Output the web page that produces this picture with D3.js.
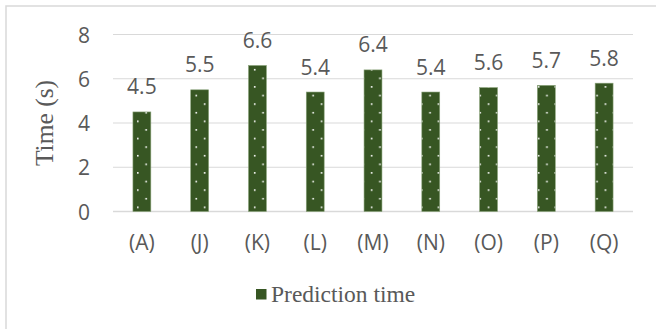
<!DOCTYPE html>
<html>
<head>
<meta charset="utf-8">
<script src="https://cdn.jsdelivr.net/npm/d3@7"></script>
<style>
  html, body { margin: 0; padding: 0; background: #fff; }
  svg { display: block; }
</style>
</head>
<body>
<svg id="chart" width="656" height="329"></svg>
<script>
// Prediction time per model variant
const categories = ["(A)", "(J)", "(K)", "(L)", "(M)", "(N)", "(O)", "(P)", "(Q)"];
const predictionTime = [4.5, 5.5, 6.6, 5.4, 6.4, 5.4, 5.6, 5.7, 5.8];
const yTicks = [0, 2, 4, 6, 8];
const seriesName = "Prediction time";
const yTitle = "Time (s)";

const W = 656, H = 329;
const svg = d3.select("#chart");
const textGrey = "#595959";
const barFill = "#375623";
const sansFont = "'Open Sans', 'Noto Sans', sans-serif";
const serifFont = "'Liberation Serif', 'Times New Roman', serif";
const sansSize = 21;

// Dotted fill used by the bars and the legend key
const defs = svg.append("defs");
const pat = defs.append("pattern")
  .attr("id", "dots")
  .attr("patternUnits", "userSpaceOnUse")
  .attr("x", 137).attr("y", 120.5)
  .attr("width", 16.7).attr("height", 17.2);
pat.append("rect").attr("width", 16.7).attr("height", 17.2).attr("fill", barFill);
pat.append("rect").attr("x", 0).attr("y", 0).attr("width", 1.6).attr("height", 1.6).attr("fill", "#ffffff");
pat.append("rect").attr("x", 8.35).attr("y", 8.6).attr("width", 1.6).attr("height", 1.6).attr("fill", "#ffffff");

// Chart-area frame (right and bottom edges fall outside the view)
svg.append("rect")
  .attr("x", 6).attr("y", 6).attr("width", W + 10).attr("height", H + 10)
  .attr("fill", "none").attr("stroke", "#d9d9d9").attr("stroke-width", 1.5);

const plot = { left: 113, right: 633, top: 34.5, bottom: 211.5 };

const x = d3.scaleBand()
  .domain(categories)
  .range([plot.left, plot.right])
  .paddingInner(0.69).paddingOuter(0.345);

const y = d3.scaleLinear()
  .domain([0, 8])
  .range([plot.bottom, plot.top]);

// Horizontal gridlines
svg.append("g")
  .selectAll("line")
  .data(yTicks)
  .join("line")
  .attr("x1", plot.left).attr("x2", plot.right)
  .attr("y1", d => y(d)).attr("y2", d => y(d))
  .attr("stroke", "#d9d9d9")
  .attr("stroke-width", d => d === 0 ? 1.6 : 1.2);

// Y axis tick labels
const yAxis = d3.axisLeft(y).tickValues(yTicks).tickSize(0).tickPadding(0);
const gy = svg.append("g").attr("transform", "translate(90,0)").call(yAxis);
gy.select(".domain").remove();
gy.selectAll("text")
  .attr("fill", textGrey)
  .attr("font-family", sansFont)
  .attr("font-size", sansSize)
  .attr("dy", "0.36em");

// X axis category labels
const xAxis = d3.axisBottom(x).tickSize(0).tickPadding(0);
const gx = svg.append("g").attr("transform", "translate(0,0)").call(xAxis);
gx.select(".domain").remove();
gx.selectAll("text")
  .attr("fill", textGrey)
  .attr("font-family", sansFont)
  .attr("font-size", sansSize)
  .attr("y", 249.5)
  .attr("dy", 0);

// Bars
const data = categories.map((c, i) => ({ c, v: predictionTime[i] }));
svg.append("g")
  .selectAll("rect")
  .data(data)
  .join("rect")
  .attr("x", d => x(d.c))
  .attr("y", d => y(d.v))
  .attr("width", x.bandwidth())
  .attr("height", d => y(0) - y(d.v))
  .attr("fill", "url(#dots)")
  .attr("stroke", "#8aa37a")
  .attr("stroke-width", 0.6);

// Value labels above bars
svg.append("g")
  .selectAll("text")
  .data(data)
  .join("text")
  .attr("x", d => x(d.c) + x.bandwidth() / 2)
  .attr("y", d => y(d.v) - 17.5)
  .attr("text-anchor", "middle")
  .attr("fill", textGrey)
  .attr("font-family", sansFont)
  .attr("font-size", sansSize)
  .text(d => d.v.toFixed(1));

// Y axis title
svg.append("text")
  .attr("transform", `translate(53,${(plot.top + plot.bottom) / 2}) rotate(-90)`)
  .attr("text-anchor", "middle")
  .attr("fill", textGrey)
  .attr("font-family", serifFont)
  .attr("font-size", 25.5)
  .text(yTitle);

// Legend
const lg = svg.append("g");
lg.append("rect")
  .attr("x", 256).attr("y", 289).attr("width", 10.5).attr("height", 10.5)
  .attr("fill", "url(#dots)");
lg.append("text")
  .attr("x", 271).attr("y", 301.5)
  .attr("fill", textGrey)
  .attr("font-family", serifFont)
  .attr("font-size", 23.5)
  .text(seriesName);
</script>
</body>
</html>
